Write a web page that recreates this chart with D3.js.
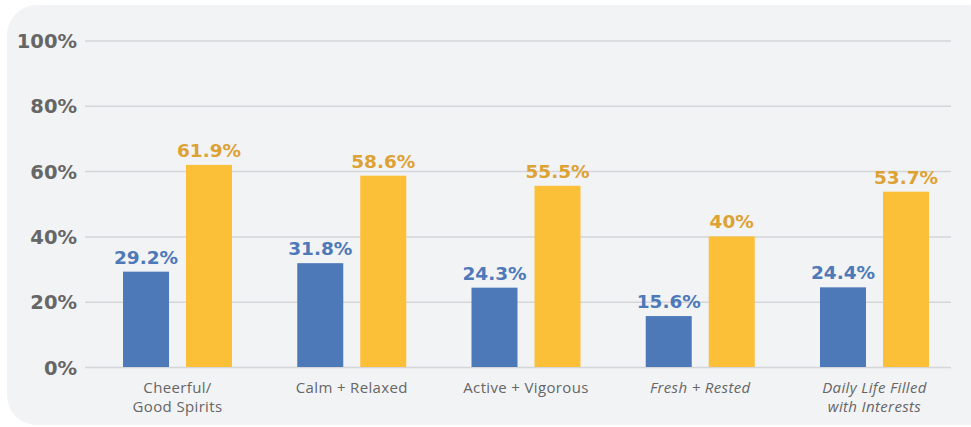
<!DOCTYPE html>
<html><head><meta charset="utf-8">
<script src="https://cdn.jsdelivr.net/npm/d3@7"></script>
<style>html,body{margin:0;padding:0;background:#fff;}svg{display:block;}</style>
</head><body>
<svg id="chart" width="971" height="427"></svg>
<script>
const categories = [["Cheerful/","Good Spirits"],["Calm + Relaxed"],["Active + Vigorous"],["Fresh + Rested"],["Daily Life Filled","with Interests"]];
const italicCats = [false,false,false,true,true];
const seriesA = [29.2, 31.8, 24.3, 15.6, 24.4];
const seriesB = [61.9, 58.6, 55.5, 40, 53.7];
const valueLabelsA = ["29.2%","31.8%","24.3%","15.6%","24.4%"];
const valueLabelsB = ["61.9%","58.6%","55.5%","40%","53.7%"];
const yTicks = [0,20,40,60,80,100];

const svg = d3.select("#chart");
svg.append("rect").attr("x",7).attr("y",5).attr("width",990).attr("height",420).attr("rx",30).attr("fill","#f2f3f5");

const y = d3.scaleLinear().domain([0,100]).range([367,40.5]);
const x = d3.scaleBand().domain(d3.range(categories.length)).range([90.4,961.6]).padding(0);
const barW = 46, gap = 17;

const yAxis = d3.axisLeft(y).tickValues(yTicks).tickSize(-866).tickFormat(d=>d+"%");
const g = svg.append("g").attr("transform","translate(85,0)").call(yAxis);
g.select(".domain").remove();
g.selectAll(".tick line").attr("stroke","#d5d6d9").attr("stroke-width",1.5);
g.selectAll(".tick text").attr("x",-8).attr("dy","0.36em").attr("fill","#666")
  .attr("font-family","'DejaVu Sans', sans-serif").attr("font-weight","bold").attr("font-size","19.5px");

const groups = svg.append("g").selectAll("g").data(categories).join("g")
  .attr("transform",(d,i)=>`translate(${x(i)+x.bandwidth()/2},0)`);

groups.append("rect").attr("x",-barW-gap/2).attr("width",barW)
  .attr("y",(d,i)=>y(seriesA[i])).attr("height",(d,i)=>y(0)-y(seriesA[i])).attr("fill","#4e79b9");
groups.append("rect").attr("x",gap/2).attr("width",barW)
  .attr("y",(d,i)=>y(seriesB[i])).attr("height",(d,i)=>y(0)-y(seriesB[i])).attr("fill","#fbbf38");

groups.append("text").attr("x",-barW/2-gap/2).attr("y",(d,i)=>y(seriesA[i])-8)
  .attr("text-anchor","middle").attr("fill","#4e79b9").attr("font-family","'DejaVu Sans', sans-serif")
  .attr("font-weight","bold").attr("font-size","18.5px").text((d,i)=>valueLabelsA[i]);
groups.append("text").attr("x",barW/2+gap/2).attr("y",(d,i)=>y(seriesB[i])-8)
  .attr("text-anchor","middle").attr("fill","#dda234").attr("font-family","'DejaVu Sans', sans-serif")
  .attr("font-weight","bold").attr("font-size","18.5px").text((d,i)=>valueLabelsB[i]);

const cl = groups.append("text").attr("y",393).attr("text-anchor","middle").attr("fill","#666")
  .attr("font-family","'Open Sans', sans-serif").attr("font-size","15px").attr("letter-spacing","0.35px")
  .attr("font-style",(d,i)=>italicCats[i]?"italic":"normal");
cl.selectAll("tspan").data(d=>d).join("tspan").attr("x",0).attr("dy",(d,j)=>j===0?0:19).text(d=>d);
</script>
</body></html>
